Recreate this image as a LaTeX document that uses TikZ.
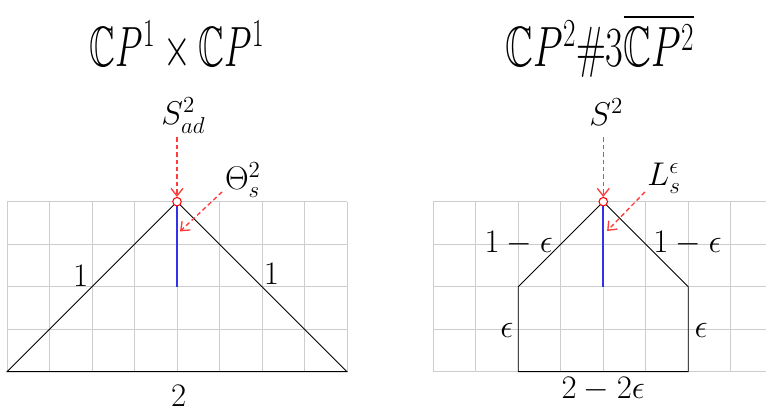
\RequirePackage{fix-cm}
\documentclass[tikz,border=0pt]{standalone}
\usepackage{amssymb}
\usepackage{graphicx}
\usetikzlibrary{arrows.meta}
\definecolor{gridgray}{RGB}{205,205,205}
\definecolor{lblue}{RGB}{50,50,235}
\definecolor{dred}{RGB}{255,60,60}
\begin{document}
\begin{tikzpicture}[
  gridline/.style={gridgray, line width=0.6pt},
  edge/.style={black, line width=0.6pt, line join=miter},
  blueline/.style={lblue, line width=1.1pt},
  redarrow/.style={dred, line width=0.9pt, dash pattern=on 3pt off 2pt, -{Straight Barb[length=5pt,width=8pt]}},
  apex/.style={circle, draw=red, fill=white, line width=0.7pt, minimum size=0.2cm, inner sep=0},
  lab/.style={font=\fontsize{22}{26}\selectfont, inner sep=0},
  ttl/.style={font=\fontsize{38}{44}\selectfont, inner sep=0, anchor=base}
]
\clip (-0.165,-0.948) rectangle (17.859,8.746);

% titles
\node[ttl] (T1) at (4.0,7.17) {\scalebox{0.63}[1]{$\mathbb{C}P^1\times\mathbb{C}P^1$}};
\node[ttl] (T2) at (13.95,7.17) {\scalebox{0.68}[1]{$\mathbb{C}P^2\#3\overline{\mathbb{C}P^2}$}};

% left grid and triangle
\draw[gridline, step=1] (0,0) grid (8,4);
\coordinate (aL) at (4,4);
\coordinate (L0) at (0,0);
\coordinate (L1) at (8,0);
\coordinate (bL) at (4,2);
\draw[edge] (L0) -- (aL) -- (L1) -- cycle;
\draw[blueline] (aL) -- (bL);
\node[apex] (apexL) at (aL) {};

\node[lab] (SL) at (4.15,6.02) {$S^2_{ad}$};
\node[lab] (ThL) at (5.55,4.5) {$\Theta^2_s$};
\coordinate (sL) at (4,5.52);
\coordinate (tL) at (5.06,4.23);
\coordinate (tLe) at (4.07,3.3);
\draw[redarrow] (sL) -- (apexL.north);
\draw[redarrow] (tL) -- (tLe);

\node[lab] (oneL) at (1.73,2.26) {$1$};
\node[lab] (oneR) at (6.22,2.29) {$1$};
\node[lab] (two) at (4.04,-0.58) {$2$};

% right grid and polygon
\draw[gridline, step=1, xshift=10.03cm] (0,0) grid (8.5,4);
\coordinate (aR) at (14.03,4);
\coordinate (R0) at (12.03,0);
\coordinate (R1) at (16.03,0);
\coordinate (R2) at (16.03,2);
\coordinate (R3) at (12.03,2);
\coordinate (bR) at (14.03,2);
\draw[edge] (R0) -- (R1) -- (R2) -- (aR) -- (R3) -- cycle;
\draw[blueline] (aR) -- (bR);
\node[apex] (apexR) at (aR) {};

\node[lab] (SR) at (14.1,6.1) {$S^2$};
\node[lab] (LR) at (15.46,4.55) {$L^\epsilon_s$};
\coordinate (sR) at (14.03,5.52);
\coordinate (tR) at (15.01,4.23);
\coordinate (tRe) at (14.12,3.31);
\draw[redarrow] (sR) -- (apexR.north);
\draw[redarrow] (tR) -- (tRe);

\node[lab] (e1) at (12.04,3.03) {$1-\epsilon$};
\node[lab] (e2) at (16.01,3.03) {$1-\epsilon$};
\node[lab] (e3) at (11.76,0.96) {$\epsilon$};
\node[lab] (e4) at (16.33,0.98) {$\epsilon$};
\node[lab] (e5) at (14.03,-0.42) {$2-2\epsilon$};
\end{tikzpicture}
\end{document}
